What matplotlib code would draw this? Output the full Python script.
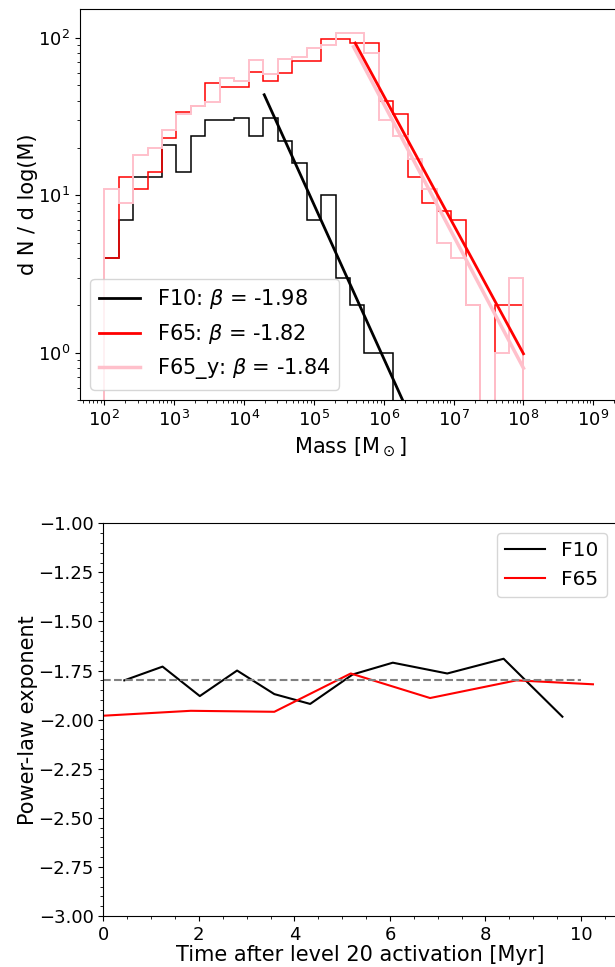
import numpy as np
import matplotlib
matplotlib.use("Agg")
import matplotlib.pyplot as plt

# ---- top panel: mass functions ----
bin_edges = np.logspace(2, 8, 30)

hist_f10 = [4, 7, 13, 13, 21, 14, 24, 30, 30, 31, 24, 31, 22, 16, 7, 10, 3, 2, 1, 1,
            0, 0, 0, 0, 0, 0, 0, 0, 0]
hist_f65 = [4, 13, 11, 14, 23, 34, 37, 52, 49, 49, 61, 53, 60, 71, 71, 98, 98, 93, 93, 40,
            33, 13, 9, 8, 7, 2, 0, 2, 2]
hist_f65y = [11, 9, 18, 20, 26, 33, 37, 39, 56, 53, 72, 59, 74, 76, 86, 90, 108, 108, 80, 30,
             24, 17, 11, 5, 4, 2, 0, 1, 3]

fit_names = ["F10", "F65", "F65_y"]
fit_beta = [-1.98, -1.82, -1.84]
fit_mstart = [1.95e4, 3.9e5, 3.7e5]
fit_norm = [43.6, 93.0, 88.0]
fit_mend = 1e8

# ---- bottom panel: exponent vs time ----
t_f10 = [0.44, 1.24, 2.02, 2.80, 3.58, 4.33, 5.22, 6.06, 7.20, 8.38, 9.61]
beta_f10 = [-1.80, -1.73, -1.88, -1.75, -1.87, -1.92, -1.77, -1.71, -1.765, -1.69, -1.985]
t_f65 = [0.0, 1.83, 3.58, 5.18, 6.84, 8.65, 10.25]
beta_f65 = [-1.98, -1.955, -1.96, -1.765, -1.89, -1.80, -1.82]
beta_ref = -1.8

fig = plt.figure(figsize=(6.15, 9.67), dpi=100)

ax1 = fig.add_axes([0.130, 0.5863, 0.878, 0.4044])
centers = np.sqrt(bin_edges[:-1] * bin_edges[1:])
ax1.hist(centers, bins=bin_edges, weights=hist_f10, histtype="step", color="black", lw=1.1)
ax1.hist(centers, bins=bin_edges, weights=hist_f65, histtype="step", color="red", lw=1.1)
ax1.hist(centers, bins=bin_edges, weights=hist_f65y, histtype="step", color="pink", lw=1.4)

fit_colors = ["black", "red", "pink"]
fit_lw = [2, 2, 2.5]
order = [0, 2, 1]
handles = {}
for i in order:
    m = np.logspace(np.log10(fit_mstart[i]), np.log10(fit_mend), 50)
    y = fit_norm[i] * (m / fit_mstart[i]) ** (fit_beta[i] + 1)
    h, = ax1.plot(m, y, color=fit_colors[i], lw=fit_lw[i],
                  label=r"%s: $\beta$ = %.2f" % (fit_names[i], fit_beta[i]))
    handles[i] = h

ax1.set_xscale("log")
ax1.set_yscale("log")
ax1.set_xlim(45, 2.4e9)
ax1.set_ylim(0.5, 153)
ax1.set_xlabel(r"Mass [M$_\odot$]", fontsize=15)
ax1.set_ylabel("d N / d log(M)", fontsize=15, labelpad=0)
ax1.tick_params(labelsize=13)
ax1.legend([handles[0], handles[1], handles[2]],
           [handles[0].get_label(), handles[1].get_label(), handles[2].get_label()],
           loc="lower left", fontsize=15)

ax2 = fig.add_axes([0.168, 0.0527, 0.835, 0.4062])
ax2.plot(t_f10, beta_f10, color="black", lw=1.5, label="F10")
ax2.plot(t_f65, beta_f65, color="red", lw=1.5, label="F65")
ax2.hlines(beta_ref, 0, 10, colors="gray", linestyles="--", lw=1.5)
ax2.set_xlim(0, 10.75)
ax2.set_ylim(-3, -1)
ax2.minorticks_on()
ax2.set_xlabel("Time after level 20 activation [Myr]", fontsize=15, labelpad=1)
ax2.set_ylabel("Power-law exponent", fontsize=15, labelpad=0)
ax2.tick_params(labelsize=13)
ax2.legend(loc="upper right", fontsize=14.5)

fig.savefig("out.png", dpi=100)
